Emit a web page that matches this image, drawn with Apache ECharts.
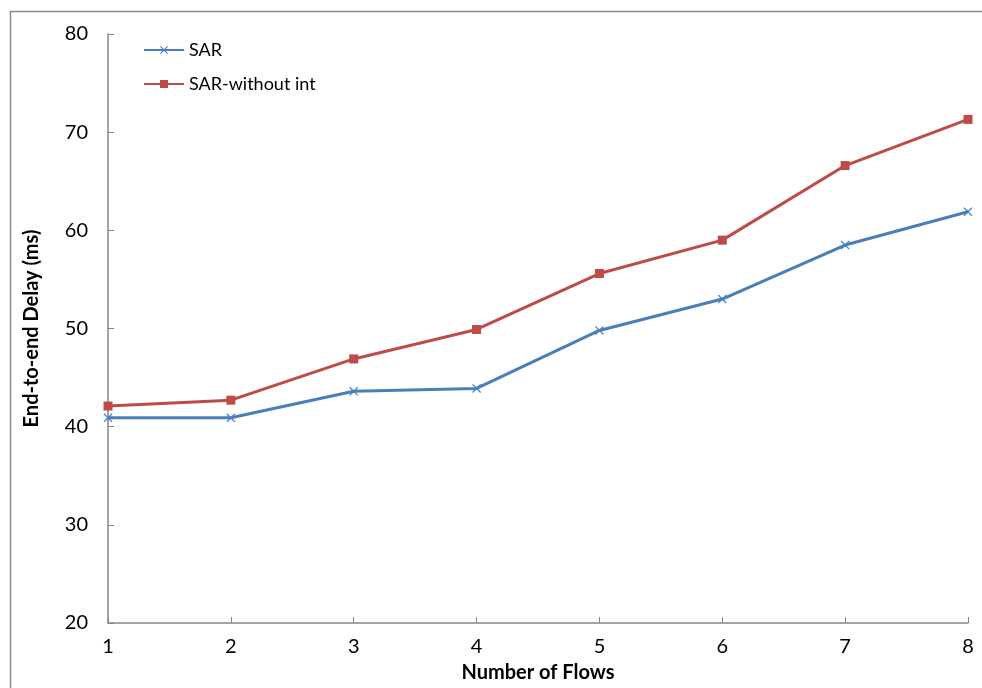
<!DOCTYPE html>
<html>
<head>
<meta charset="utf-8">
<script src="https://cdn.jsdelivr.net/npm/echarts@6/dist/echarts.min.js"></script>
<style>
  html, body { margin: 0; padding: 0; background: #fff; }
  #main { width: 982px; height: 688px; }
</style>
</head>
<body>
<div id="main"></div>
<script>
var flows = ['1', '2', '3', '4', '5', '6', '7', '8'];
var sar = [40.9, 40.9, 43.6, 43.9, 49.8, 53.0, 58.5, 61.9];
var sarWithoutInt = [42.1, 42.7, 46.9, 49.9, 55.6, 59.0, 66.6, 71.3];
var seriesNames = ['SAR', 'SAR-without int'];

var fontName = 'Lato';
var xMark = 'path://M0,1 L1,0 L5,4 L9,0 L10,1 L6,5 L10,9 L9,10 L5,6 L1,10 L0,9 L4,5 Z';

var dom = document.getElementById('main');
var myChart = echarts.init(dom);
var option = {
    animation: false,
    textStyle: { fontFamily: fontName },
    graphic: [{
        type: 'rect',
        shape: { x: 10.5, y: 11.5, width: 1200, height: 1200 },
        style: { fill: 'none', stroke: '#8a8a8a', lineWidth: 1.5 },
        silent: true
    }],
    grid: { left: 108, right: 14, top: 34, bottom: 65 },
    legend: {
        left: 138, top: 36,
        orient: 'vertical',
        itemWidth: 40, itemHeight: 10, itemGap: 16,
        textStyle: { fontFamily: fontName, fontSize: 18, color: '#000' },
        data: seriesNames
    },
    xAxis: {
        type: 'category',
        data: flows,
        boundaryGap: false,
        name: 'Number of Flows',
        nameLocation: 'middle',
        nameGap: 40,
        nameTextStyle: { fontFamily: fontName, fontSize: 20, fontWeight: 'bold', color: '#000' },
        axisLine: { lineStyle: { color: '#868686', width: 1.5 } },
        axisTick: { inside: true, length: 6, alignWithLabel: true, lineStyle: { color: '#868686' } },
        axisLabel: { fontFamily: fontName, fontSize: 20, color: '#000', margin: 14 },
        splitLine: { show: false }
    },
    yAxis: {
        type: 'value',
        min: 20, max: 80, interval: 10,
        name: 'End-to-end Delay (ms)',
        nameLocation: 'middle',
        nameGap: 66,
        nameTextStyle: { fontFamily: fontName, fontSize: 20, fontWeight: 'bold', color: '#000' },
        axisLine: { show: true, lineStyle: { color: '#868686', width: 1.5 } },
        axisTick: { show: true, inside: true, length: 6, lineStyle: { color: '#868686' } },
        axisLabel: { fontFamily: fontName, fontSize: 20, color: '#000', margin: 20 },
        splitLine: { show: false }
    },
    series: [{
        name: seriesNames[0],
        type: 'line',
        data: sar,
        symbol: xMark,
        symbolSize: 9,
        showAllSymbol: true,
        lineStyle: { color: '#4A7EBB', width: 3 },
        itemStyle: { color: '#4A7EBB' }
    }, {
        name: seriesNames[1],
        type: 'line',
        data: sarWithoutInt,
        symbol: 'rect',
        symbolSize: 9,
        showAllSymbol: true,
        lineStyle: { color: '#BE4B48', width: 3 },
        itemStyle: { color: '#BE4B48' }
    }]
};
if (option && typeof option == 'object') {
    myChart.setOption(option, true);
}
</script>
</body>
</html>
